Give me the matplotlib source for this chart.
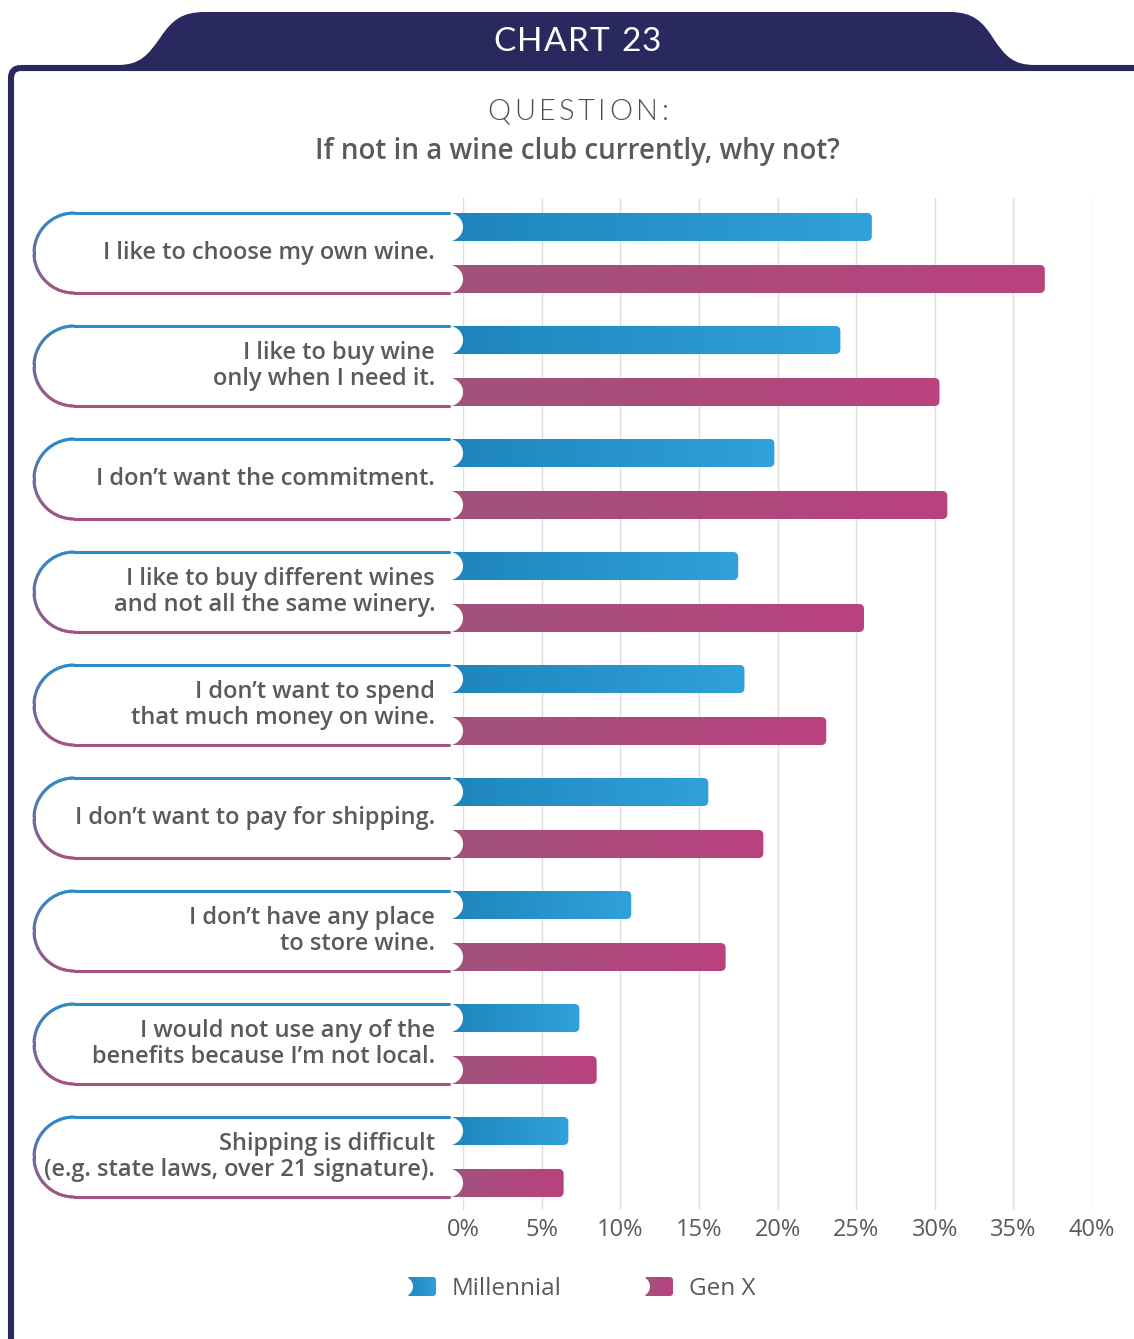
import numpy as np
import matplotlib
matplotlib.use("Agg")
import matplotlib.pyplot as plt
from matplotlib.path import Path
from matplotlib.patches import PathPatch, FancyBboxPatch, Circle
from matplotlib.collections import LineCollection
from matplotlib.colors import LinearSegmentedColormap, to_rgb
from matplotlib.font_manager import FontProperties, findfont, get_font

# survey answers, share of respondents (%)
reasons = [
    "I like to choose my own wine.",
    "I like to buy wine\nonly when I need it.",
    "I don\u2019t want the commitment.",
    "I like to buy different wines\nand not all the same winery.",
    "I don\u2019t want to spend\nthat much money on wine.",
    "I don\u2019t want to pay for shipping.",
    "I don\u2019t have any place\nto store wine.",
    "I would not use any of the\nbenefits because I\u2019m not local.",
    "Shipping is difficult\n(e.g. state laws, over 21 signature).",
]
millennial = [26.0, 24.0, 19.8, 17.5, 17.9, 15.6, 10.7, 7.4, 6.7]
gen_x = [37.0, 30.3, 30.8, 25.5, 23.1, 19.1, 16.7, 8.5, 6.4]
series_names = ["Millennial", "Gen X"]
xticks = [0, 5, 10, 15, 20, 25, 30, 35, 40]

NAVY = "#29285f"
TEXT = "#5a5a5a"
GRID = "#dedede"
BLUE = ("#1e85bb", "#30a1db")
PINK = ("#a0537c", "#ba417f")
EDGE_TOP = "#2a8cc6"
EDGE_BOT = "#a4537f"

W, H = 1134, 1339
fig = plt.figure(figsize=(W / 100, H / 100), dpi=100)
fig.patch.set_facecolor("white")

# background layer in pixel units (y grows downward)
bg = fig.add_axes([0, 0, 1, 1])
bg.set_xlim(0, W)
bg.set_ylim(H, 0)
bg.axis("off")

# plot area geometry
X0, X1 = 463, 1092          # pixel span of 0%..40%
TOP, BOT = 198, 1210        # pixel span of the grid
ROW0, ROW = 253, 113        # centre of first group, group pitch
ppx = (X1 - X0) / 40.0      # pixels per percent

ax = fig.add_axes([X0 / W, 1 - BOT / H, (X1 - X0) / W, (BOT - TOP) / H])
ax.set_zorder(2)
ax.patch.set_alpha(0)


def tracked_text(cx, cy, s, width, **kw):
    """Centre a letter-spaced string so that it spans `width` pixels."""
    prop = FontProperties(family=kw.pop("family"), weight=kw.pop("weight", "normal"),
                          size=kw["fontsize"])
    font = get_font(findfont(prop))
    font.set_size(kw["fontsize"], 100)
    adv = []
    for ch in s:
        g = font.load_char(ord(ch))
        adv.append(g.linearHoriAdvance / 65536)
    track = (width - sum(adv[:-1]) - adv[-1]) / (len(s) - 1)
    x = cx - width / 2
    for ch, a in zip(s, adv):
        bg.text(x, cy, ch, ha="left", va="center", fontproperties=prop,
                color=kw.get("color"), zorder=kw.get("zorder", 3))
        x += a + track


# frame and header tab
frame = FancyBboxPatch((11, 68), 1160, 1290, boxstyle="round,pad=0,rounding_size=10",
                       fc="none", ec=NAVY, lw=4.4, zorder=1)
bg.add_patch(frame)
tab_verts = [(100, 70), (118, 65),
             (140, 65), (148, 55), (160, 38),
             (172, 20), (182, 12), (205, 12),
             (950, 12),
             (973, 12), (983, 22), (993, 38),
             (1005, 56), (1013, 65), (1035, 65),
             (1040, 70), (100, 70)]
tab_codes = [Path.MOVETO, Path.LINETO,
             Path.CURVE4, Path.CURVE4, Path.CURVE4,
             Path.CURVE4, Path.CURVE4, Path.CURVE4,
             Path.LINETO,
             Path.CURVE4, Path.CURVE4, Path.CURVE4,
             Path.CURVE4, Path.CURVE4, Path.CURVE4,
             Path.LINETO, Path.CLOSEPOLY]
bg.add_patch(PathPatch(Path(tab_verts, tab_codes), fc=NAVY, ec="none", zorder=1))

tracked_text(577, 42, "CHART 23", 168, family="Lato", fontsize=24, color="white")
tracked_text(578, 112, "QUESTION:", 181, family="Lato", weight=300, fontsize=21,
             color="#4e4e4e")
bg.text(577, 151, "If not in a wine club currently, why not?", color=TEXT,
        fontsize=20, family="Open Sans", fontweight="semibold",
        ha="center", va="center")

# axes set-up
ylim = ((BOT - ROW0) / ROW, (TOP - ROW0) / ROW)
ax.set_xlim(0, 40)
ax.set_ylim(*ylim)
ax.set_xticks(xticks)
ax.set_xticklabels([f"{t}%" for t in xticks], color=TEXT, fontsize=17,
                   family="Open Sans")
ax.set_yticks([])
ax.tick_params(axis="x", length=0, pad=6)
for s in ax.spines.values():
    s.set_visible(False)
ax.grid(axis="x", color=GRID, lw=1)
ax.set_axisbelow(True)

bar_h = 28 / ROW
offset = 26 / ROW
start = -13 / ppx           # bars begin just behind the label pill
grad = np.linspace(0, 1, 256).reshape(1, -1)


def gradient_bar(y, value, colors):
    cmap = LinearSegmentedColormap.from_list("g", colors)
    box = FancyBboxPatch((start, y - bar_h / 2), value - start, bar_h,
                         boxstyle="round,pad=0,rounding_size=%f" % (5 / ppx),
                         mutation_aspect=ppx / ROW, transform=ax.transData)
    im = ax.imshow(grad, cmap=cmap, aspect="auto", zorder=3,
                   extent=[start, value, y + bar_h / 2, y - bar_h / 2])
    im.set_clip_path(box)
    im.set_clip_box(fig.bbox)


def to_data(pts, i):
    pts = np.asarray(pts, dtype=float)
    return np.column_stack([pts[:, 0] / ppx, i + pts[:, 1] / ROW])


def arc(cx, cy, r, a0, a1, n=40):
    t = np.radians(np.linspace(a0, a1, n))
    return np.column_stack([cx + r * np.cos(t), cy + r * np.sin(t)])


c_top, c_bot = np.array(to_rgb(EDGE_TOP)), np.array(to_rgb(EDGE_BOT))

for i, (label, m, g) in enumerate(zip(reasons, millennial, gen_x)):
    gradient_bar(i - offset, m, BLUE)
    gradient_bar(i + offset, g, PINK)

    # white label pill (pixel offsets from the 0% line / group centre)
    lx, r = -389, 40
    left = arc(lx, 0, r, 270, 90)            # top -> left -> bottom (y down)
    bulge_b = arc(-14, 26, 14, 90, -90)      # around the Gen X bar end
    bulge_t = arc(-14, -26, 14, 90, -90)     # around the Millennial bar end
    outline = np.vstack([left, [[-14, 40]], bulge_b, [[-14, -12]], bulge_t,
                         [[-14, -40]], [[lx, -40]]])
    ax.add_patch(PathPatch(Path(to_data(outline, i)), fc="white", ec="none",
                           zorder=4, clip_on=False))

    # gradient outline: top edge, round left end, bottom edge
    stroke = np.vstack([[[-14, -40]], left, [[-14, 40]]])
    pts = to_data(stroke, i)
    segs = np.stack([pts[:-1], pts[1:]], axis=1)
    frac = (stroke[:-1, 1] + stroke[1:, 1]) / 160 + 0.5
    cols = [tuple(c_top + (c_bot - c_top) * f) for f in frac]
    ax.add_collection(LineCollection(segs, colors=cols, linewidths=2.2,
                                     zorder=5, clip_on=False, capstyle="round"))

    ax.text(-28 / ppx, i, label, ha="right", va="center", color=TEXT,
            fontsize=17, family="Open Sans", fontweight="semibold",
            linespacing=1.1, zorder=6)

ax.set_xlim(0, 40)
ax.set_ylim(*ylim)

# legend
for (x, name), colors in zip([(407, series_names[0]), (644, series_names[1])],
                             [BLUE, PINK]):
    cmap = LinearSegmentedColormap.from_list("l", colors)
    sw = FancyBboxPatch((x, 1277), 29, 19, boxstyle="round,pad=0,rounding_size=3",
                        transform=bg.transData)
    im = bg.imshow(grad, cmap=cmap, aspect="auto", extent=[x, x + 29, 1296, 1277],
                   zorder=2)
    im.set_clip_path(sw)
    bg.add_patch(Circle((x - 4, 1286.5), 10, fc="white", ec="none", zorder=3))
    bg.text(x + 45, 1289, name, color=TEXT, fontsize=17.5, family="Open Sans",
            ha="left", va="center")
bg.set_xlim(0, W)
bg.set_ylim(H, 0)

fig.savefig("out.png", dpi=100, facecolor="white")
